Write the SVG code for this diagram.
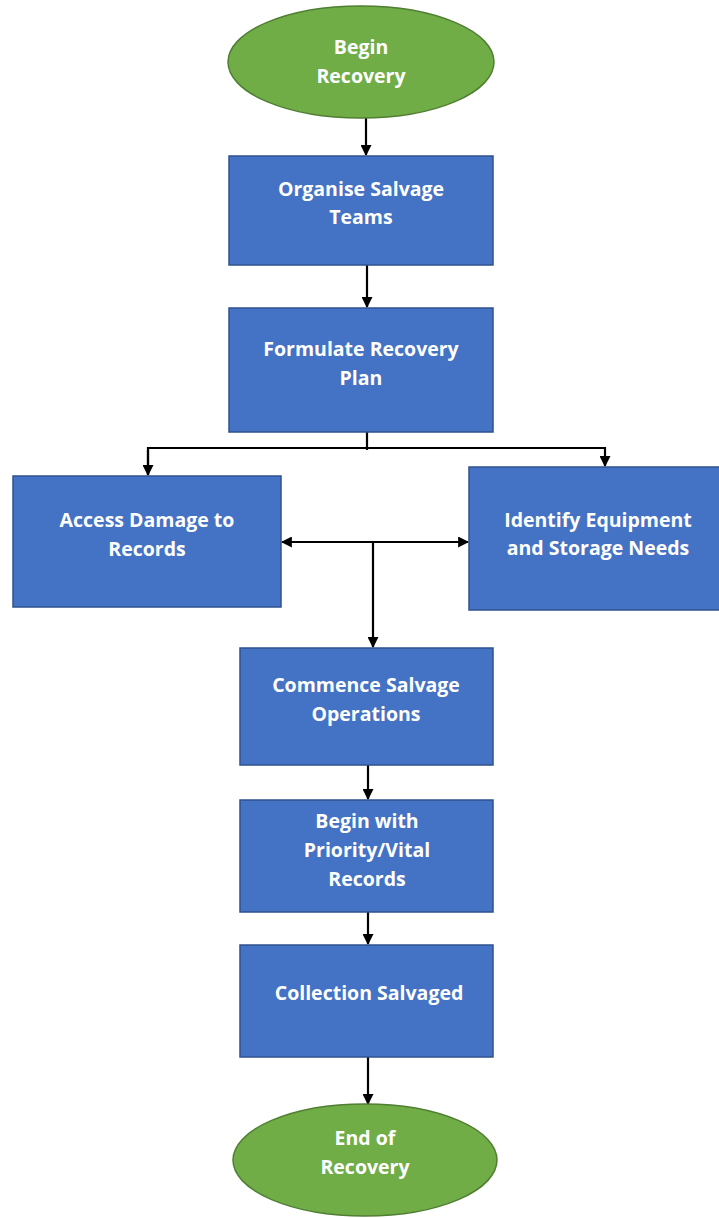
<svg xmlns="http://www.w3.org/2000/svg" width="719" height="1218" viewBox="0 0 719 1218">
<defs>
<marker id="ah" viewBox="0 0 10 10" refX="9" refY="5" markerWidth="5" markerHeight="5" orient="auto-start-reverse" markerUnits="strokeWidth"><path d="M0,0 L10,5 L0,10 z" fill="#000"/></marker>
<style>
.box{fill:#4472C4;stroke:#2F528F;stroke-width:1.5}
.ell{fill:#70AD47;stroke:#507E32;stroke-width:1.5}
.t{font-family:"Open Sans","Liberation Sans",sans-serif;font-weight:bold;font-size:19.5px;fill:#fff;text-anchor:middle}
.c{fill:none;stroke:#000;stroke-width:2.2}
</style>
</defs>
<rect width="719" height="1218" fill="#fff"/>
<g id="connectors">
<line class="c" x1="366" y1="118" x2="366" y2="155" marker-end="url(#ah)"/>
<line class="c" x1="367" y1="265" x2="367" y2="307" marker-end="url(#ah)"/>
<line class="c" x1="367" y1="432" x2="367" y2="450"/>
<polyline class="c" points="148,475 148,448 605,448 605,466" marker-end="url(#ah)"/>
<line class="c" x1="148" y1="450" x2="148" y2="475" marker-end="url(#ah)"/>
<line class="c" x1="282" y1="542" x2="468" y2="542" marker-start="url(#ah)" marker-end="url(#ah)"/>
<line class="c" x1="373" y1="542" x2="373" y2="647" marker-end="url(#ah)"/>
<line class="c" x1="368" y1="765" x2="368" y2="799" marker-end="url(#ah)"/>
<line class="c" x1="368" y1="912" x2="368" y2="944" marker-end="url(#ah)"/>
<line class="c" x1="368" y1="1057" x2="368" y2="1104" marker-end="url(#ah)"/>
</g>
<g id="begin"><ellipse class="ell" cx="361" cy="62" rx="133" ry="56"/><text class="t" x="361" y="54">Begin</text><text class="t" x="361" y="83">Recovery</text></g>
<g id="organise"><rect class="box" x="229" y="156" width="264" height="109"/><text class="t" x="361" y="196">Organise Salvage</text><text class="t" x="361" y="224">Teams</text></g>
<g id="formulate"><rect class="box" x="229" y="308" width="264" height="124"/><text class="t" x="361" y="356">Formulate Recovery</text><text class="t" x="361" y="385">Plan</text></g>
<g id="access"><rect class="box" x="13" y="476" width="268" height="131"/><text class="t" x="147" y="527">Access Damage to</text><text class="t" x="147" y="556">Records</text></g>
<g id="identify"><rect class="box" x="469" y="467" width="252" height="143"/><text class="t" x="598" y="527">Identify Equipment</text><text class="t" x="598" y="555">and Storage Needs</text></g>
<g id="commence"><rect class="box" x="240" y="648" width="253" height="117"/><text class="t" x="366" y="692">Commence Salvage</text><text class="t" x="366" y="721">Operations</text></g>
<g id="priority"><rect class="box" x="240" y="800" width="253" height="112"/><text class="t" x="367" y="828">Begin with</text><text class="t" x="367" y="857">Priority/Vital</text><text class="t" x="367" y="886">Records</text></g>
<g id="collection"><rect class="box" x="240" y="945" width="253" height="112"/><text class="t" x="369" y="1000">Collection Salvaged</text></g>
<g id="end"><ellipse class="ell" cx="365" cy="1160" rx="132" ry="56"/><text class="t" x="365" y="1145">End of</text><text class="t" x="365" y="1174">Recovery</text></g>
</svg>
